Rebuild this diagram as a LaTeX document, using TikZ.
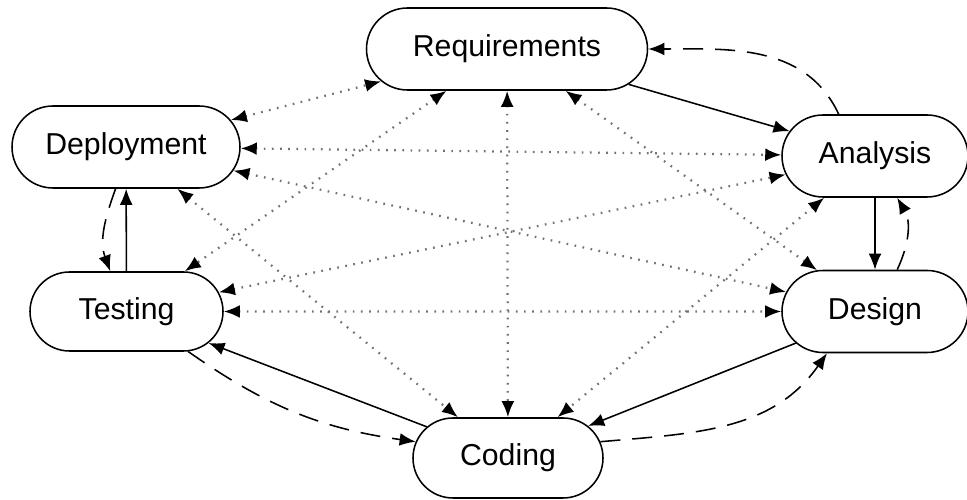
\documentclass[tikz,border=0pt]{standalone}
\usepackage{fontspec}
\setmainfont{Liberation Sans}
\usetikzlibrary{shapes.misc,arrows.meta}
\pgfdeclarelayer{edgelayer}
\pgfdeclarelayer{nodelayer}
\pgfsetlayers{edgelayer,nodelayer,main}
\tikzset{font=\fontsize{21.5}{25}\selectfont}
\tikzstyle{phase}=[rounded rectangle,draw,line width=1.1pt,minimum height=2.05cm,inner sep=0pt]
\tikzstyle{flow}=[-{Latex[length=4mm,width=3.2mm]},line width=1.1pt]
\tikzstyle{back}=[flow,dash pattern=on 5mm off 3mm]
\tikzstyle{link}=[{Latex[length=4mm,width=3.2mm,color=black]}-{Latex[length=4mm,width=3.2mm,color=black]},line width=1.6pt,black!55,dash pattern=on 1.2pt off 4.6pt]

\begin{document}
\begin{tikzpicture}
	\useasboundingbox (0, 0) rectangle (24.175, 12.5);
	\begin{pgfonlayer}{nodelayer}
		\node [style=phase, minimum width=7.025cm] (0) at (12.675, 11.275) {Requirements};
		\node [style=phase, minimum width=4.65cm] (1) at (21.875, 8.6) {Analysis};
		\node [style=phase, minimum width=4.65cm] (2) at (21.875, 4.7125) {Design};
		\node [style=phase, minimum width=4.75cm, minimum height=2cm] (3) at (12.7, 1.05) {Coding};
		\node [style=phase, minimum width=4.825cm, minimum height=1.975cm] (4) at (3.1625, 4.7125) {Testing};
		\node [style=phase, minimum width=5.7cm] (5) at (3.15, 8.825) {Deployment};
	\end{pgfonlayer}
	\begin{pgfonlayer}{edgelayer}
		\draw [style=flow] (0) to (1);
		\draw [style=flow] (1) to (2);
		\draw [style=flow] (2) to (3);
		\draw [style=flow] (3) to (4);
		\draw [style=flow] (4) to (5);
		\draw [style=back] (1.131) to [out=115, in=0] (0.east);
		\draw [style=back] (2.62) to [out=65, in=-60] (1.-62);
		\draw [style=back] (3.10) to [out=5, in=-125] (2.-139);
		\draw [style=back] (4.-33) to [out=-35, in=172] (3.170);
		\draw [style=back] (5.-104) to [out=-110, in=110] (4.112);
		\draw [style=link] (5) to (0);
		\draw [style=link] (0) to (4);
		\draw [style=link] (0) to (3);
		\draw [style=link] (0) to (2);
		\draw [style=link] (5) to (1);
		\draw [style=link] (5) to (2);
		\draw [style=link] (5) to (3);
		\draw [style=link] (4) to (1);
		\draw [style=link] (4) to (2);
		\draw [style=link] (1) to (3);
	\end{pgfonlayer}
\end{tikzpicture}
\end{document}
